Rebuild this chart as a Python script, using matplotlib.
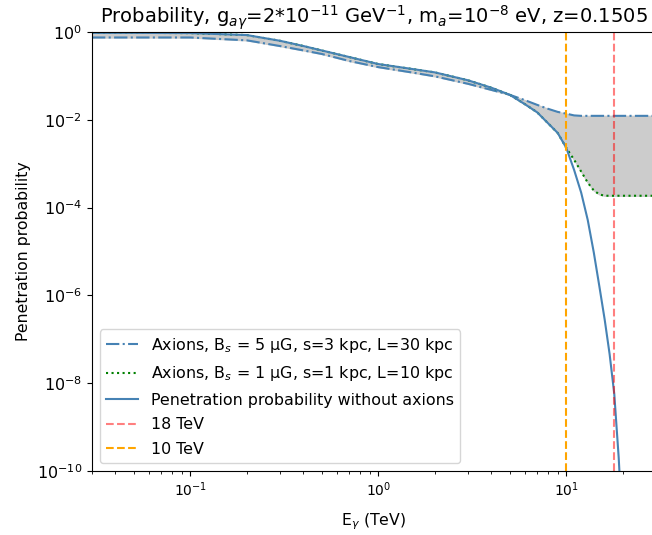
import numpy as np
import matplotlib
matplotlib.use("Agg")
import matplotlib.pyplot as plt

# photon energy (TeV)
energy = [0.03, 0.05, 0.1, 0.2, 0.3, 0.4, 0.5, 0.7, 1.0, 1.5, 2, 3, 4, 5, 6, 7, 8, 9,
          10, 11, 12, 13, 14, 15, 16, 17, 18, 19, 20, 25, 30]

# log10 of penetration probability
log_no_axion = [-0.02, -0.02, -0.025, -0.07, -0.2, -0.32, -0.42, -0.57, -0.73, -0.84, -0.92,
                -1.10, -1.27, -1.43, -1.64, -1.83, -2.08, -2.30,
                -2.64, -3.14, -3.66, -4.28, -5.02, -5.80, -6.55, -7.34, -8.25, -9.7,
                -11.5, -16.0, -20.0]
log_axion_5uG = [-0.125, -0.125, -0.125, -0.19, -0.32, -0.42, -0.50, -0.66, -0.80, -0.92, -1.01,
                 -1.18, -1.32, -1.43, -1.55, -1.66, -1.75, -1.82,
                 -1.86, -1.90, -1.91, -1.91, -1.91, -1.91, -1.91, -1.91, -1.91, -1.91,
                 -1.91, -1.91, -1.91]
log_axion_1uG = [-0.02, -0.02, -0.025, -0.07, -0.2, -0.32, -0.42, -0.57, -0.73, -0.84, -0.92,
                 -1.10, -1.27, -1.43, -1.64, -1.83, -2.08, -2.30,
                 -2.64, -2.91, -3.18, -3.43, -3.61, -3.70, -3.73, -3.73, -3.73, -3.73,
                 -3.73, -3.73, -3.73]

p_none = 10 ** np.array(log_no_axion)
p_5 = 10 ** np.array(log_axion_5uG)
p_1 = 10 ** np.array(log_axion_1uG)

fig = plt.figure(figsize=(6.52, 5.35), dpi=100)
ax = fig.add_axes([92 / 652, 1 - 471 / 535, (656 - 92) / 652, (471 - 32) / 535])

ax.fill_between(energy, p_5, p_1, color="0.8")
ax.plot(energy, p_5, color="steelblue", linestyle="-.", label=r"Axions, B$_s$ = 5 μG, s=3 kpc, L=30 kpc")
ax.plot(energy, p_1, color="green", linestyle=":", label=r"Axions, B$_s$ = 1 μG, s=1 kpc, L=10 kpc")
ax.plot(energy, p_none, color="steelblue", label="Penetration probability without axions")
ax.axvline(18, color="red", alpha=0.5, linestyle="--", label="18 TeV")
ax.axvline(10, color="orange", linestyle="--", label="10 TeV")

ax.set_xscale("log")
ax.set_yscale("log")
ax.set_xlim(0.03, 30)
ax.set_ylim(1e-10, 1)
ax.tick_params(axis="x", labelsize=10)
ax.tick_params(axis="y", labelsize=11.5)
ax.set_xlabel(r"E$_\gamma$ (TeV)", fontsize=11.3, labelpad=9)
ax.set_ylabel("Penetration probability", fontsize=11.3)
ax.set_title(r"Probability, g$_{a\gamma}$=2*10$^{-11}$ GeV$^{-1}$, m$_a$=10$^{-8}$ eV, z=0.1505",
             fontsize=14)
ax.legend(loc="lower left", fontsize=11.4, labelspacing=0.6)

plt.savefig("out.png", dpi=100)
